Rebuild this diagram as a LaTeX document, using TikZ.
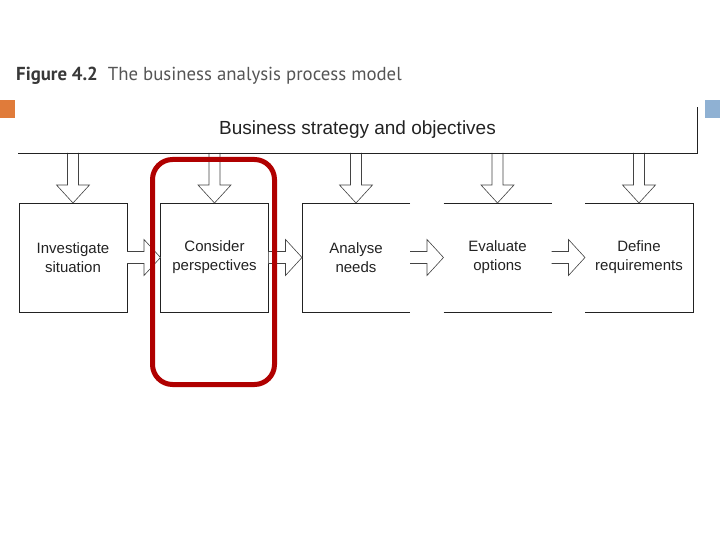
\documentclass[tikz,border=0pt]{standalone}
\usepackage{fontspec}
\setmainfont{Liberation Sans}
\newfontfamily\titlefont{PT Sans}
\usetikzlibrary{positioning,calc}
\definecolor{highlight}{HTML}{B00000}
\definecolor{accentorange}{HTML}{E07B3A}
\definecolor{accentblue}{HTML}{8FB1D3}
\definecolor{ink}{HTML}{222222}
\definecolor{caption}{HTML}{555555}
\tikzset{
    % Process stage box
    stage/.style={
        rectangle,
        minimum width=108pt,
        minimum height=109pt,
        inner sep=0pt,
        outer sep=0pt,
        align=center,
        font=\fontsize{15}{19}\selectfont,
        text=ink,
        line width=0.8pt
    },
    % Hollow block arrow
    blockarrow/.style={
        draw=ink!85,
        fill=white,
        line width=0.6pt,
        line join=miter
    },
    % Box edges
    edge line/.style={
        draw=ink,
        line width=0.8pt
    }
}

\begin{document}
\begin{tikzpicture}[x=1pt, y=-1pt]
    \useasboundingbox (0,0) rectangle (720,540);

    % Corner marks
    \fill[accentorange] (0,100) rectangle (15,118);
    \fill[accentblue] (705,100) rectangle (720,118);

    % Caption
    \node[anchor=base west, inner sep=0pt, text=caption, font=\titlefont\fontsize{18.8}{22}\selectfont] (title) at (16,81)
        {\textcolor{ink!90}{\textbf{Figure 4.2}}\ \ The business analysis process model};

    % Strategy frame
    \node[minimum width=679pt, minimum height=46pt, inner sep=0pt, outer sep=0pt, font=\fontsize{19}{22}\selectfont, text=ink] (strategy) at (357.5,130)
        {Business strategy and objectives};

    % Stages
    \node[stage, draw=ink, anchor=north west] (invest) at (19,203) {Investigate\\situation};
    \node[stage, draw=ink, right=33.5pt of invest] (consider) {Consider\\perspectives};
    \node[stage, right=33.5pt of consider] (analyse) {Analyse\\needs};
    \node[stage, right=33.5pt of analyse] (evaluate) {Evaluate\\options};
    \node[stage, right=33.5pt of evaluate] (define) {Define\\requirements};

    \draw[edge line] (analyse.north east) -- (analyse.north west) -- (analyse.south west) -- (analyse.south east);
    \draw[edge line] (evaluate.north west) -- (evaluate.north east);
    \draw[edge line] (evaluate.south west) -- (evaluate.south east);
    \draw[edge line] (define.north west) -- (define.north east) -- (define.south east) -- (define.south west);

    % Down arrows
    \foreach \b in {invest,consider,analyse,evaluate,define}
        \draw[blockarrow] ($(strategy.south -| \b.north)+(-5.5,0)$) -- ++(0,32) -- ++(-11,0)
            -- (\b.north) -- ++(16.5,-18) -- ++(-11,0) -- ++(0,-32);
    \draw[edge line] (strategy.south west) -- (strategy.south east) -- (strategy.north east);

    % Right arrows
    \foreach \a/\c in {invest/consider,consider/analyse,analyse/evaluate,evaluate/define}
        \draw[blockarrow] ($(\a.east)+(0,-6)$) -- ++(17,0) -- ++(0,-12)
            -- (\c.west) -- ++(-16.5,18) -- ++(0,-12) -- ++(-17,0);

    % Highlight
    \node[draw=highlight, line width=5pt, rounded corners=20pt, minimum width=122pt, minimum height=225pt] (focus) at (213.5,272) {};
\end{tikzpicture}
\end{document}
